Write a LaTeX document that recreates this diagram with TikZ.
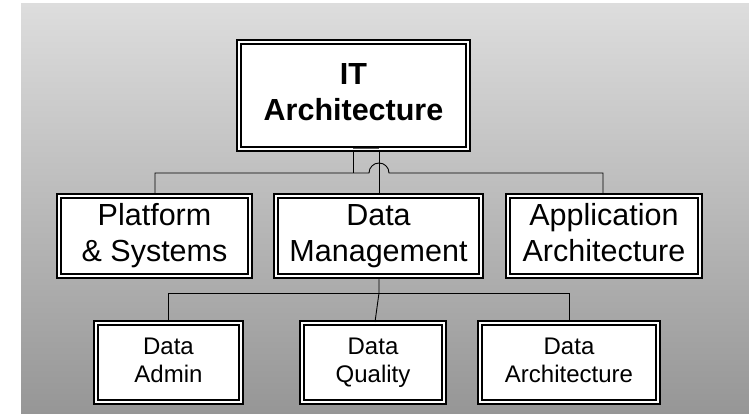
\documentclass[tikz,border=0pt]{standalone}
\usepackage{fontspec}
\setmainfont{Liberation Sans}
\usetikzlibrary{calc}
\definecolor{bgtop}{RGB}{221,221,221}
\definecolor{bgbot}{RGB}{150,150,150}
\definecolor{stubgray}{RGB}{90,90,90}
\tikzset{
  dbox/.style={draw=black, fill=white, line width=1.6pt, double=white, double distance=2.4pt,
    inner sep=0pt, align=center, rectangle},
  topbox/.style={dbox, font=\fontsize{30.5}{36}\selectfont\bfseries},
  midbox/.style={dbox, font=\fontsize{30.5}{36}\selectfont},
  lowbox/.style={dbox, font=\fontsize{24}{28}\selectfont},
  conn/.style={draw=black, line width=0.9pt}
}
\begin{document}
\begin{tikzpicture}[x=1pt,y=-1pt]
\useasboundingbox (0,0) rectangle (749,414);
\shade[top color=bgtop, bottom color=bgbot] (21,4) rectangle (749,414);

\node[topbox, minimum width=229.4pt, minimum height=106.9pt] (it) at (353.5,95.75) {\strut IT\\\strut Architecture};

\node[midbox, minimum width=191.4pt, minimum height=80.4pt] (ps) at (154.5,236) {\strut Platform\\\strut\& Systems};
\node[midbox, minimum width=205.4pt, minimum height=80.4pt] (dm) at (378.5,236) {\strut Data\\\strut Management};
\node[midbox, minimum width=192.4pt, minimum height=80.4pt] (aa) at (604,236) {\strut Application\\\strut Architecture};

\node[lowbox, minimum width=145.4pt, minimum height=79.4pt] (da) at (168.5,362.5) {\strut Data\\\strut Admin};
\node[lowbox, minimum width=142.4pt, minimum height=79.4pt] (dq) at (373,362.5) {\strut Data\\\strut Quality};
\node[lowbox, minimum width=178.4pt, minimum height=79.4pt] (dar) at (569,362.5) {\strut Data\\\strut Architecture};

% upper connectors
\coordinate (stubL) at (353,173);
\coordinate (stubR) at (379,173);
\coordinate (busL) at (155,173);
\coordinate (busR) at (603,173);
\draw[draw=stubgray, line width=1.2pt] ($(stubL |- it.south)+(0,-1.5)$) -- ($(stubR |- it.south)+(0,-1.5)$);
\draw[conn] (stubL |- it.south) -- (stubL);
\draw[conn] (busL |- ps.north) -- (busL) -- (369,173)
  arc[start angle=180, end angle=0, radius=10pt] -- (busR) -- (busR |- aa.north);
\draw[conn] (stubR |- it.south) -- (stubR |- dm.north);

% lower connectors
\coordinate (lbL) at (168.5,293);
\coordinate (lbM) at (379,293);
\coordinate (lbR) at (569,293);
\draw[conn] (lbM |- dm.south) -- (lbM) -- ($(dq.north)+(2,0)$);
\draw[conn] (lbL |- da.north) -- (lbL) -- (lbR) -- (lbR |- dar.north);
\end{tikzpicture}
\end{document}
